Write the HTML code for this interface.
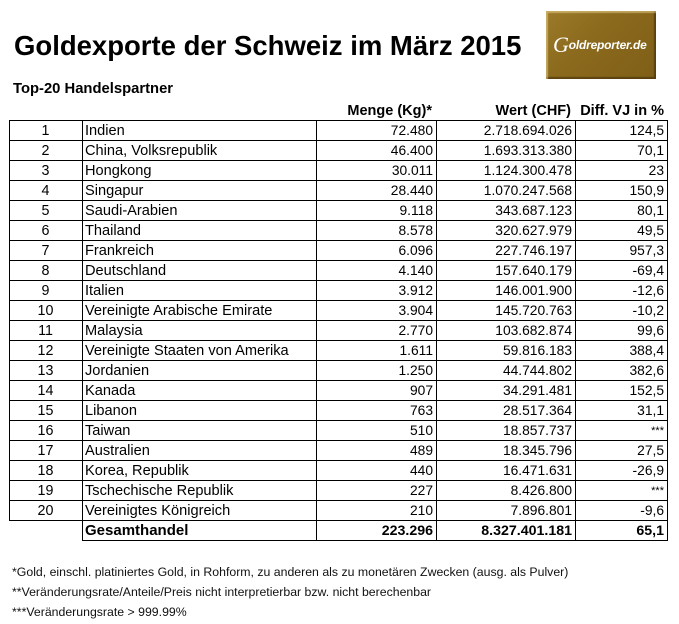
<!DOCTYPE html>
<html>
<head>
<meta charset="utf-8">
<style>
  html,body{margin:0;padding:0;background:#fff;}
  body{width:679px;height:624px;position:relative;overflow:hidden;font-family:"Liberation Sans",Arial,sans-serif;color:#000;}
  .a{position:absolute;white-space:nowrap;}
  .h{position:absolute;height:1px;background:#000;}
  .v{position:absolute;width:1px;background:#000;}
  .t{position:absolute;font-size:13.8px;line-height:22px;height:20px;white-space:nowrap;}
  .n{text-align:center;width:73px;left:9px;font-size:14.3px;}
  .c{left:85px;font-size:14.6px;}
  .m{right:246px;text-align:right;}
  .w{right:107px;text-align:right;}
  .d{right:15px;text-align:right;}
  .b{font-weight:bold;}
  .fn{position:absolute;left:12px;font-size:12.3px;line-height:14px;white-space:nowrap;color:#111;}
</style>
</head>
<body>
  <div class="a" style="left:14px;top:30px;font-size:27.5px;font-weight:bold;line-height:32px;">Goldexporte der Schweiz im März 2015</div>

  <div class="a" style="left:546px;top:11px;width:110px;height:68px;background:linear-gradient(135deg,#9c7a2a 0%,#8b6a1d 40%,#7f5f17 100%);box-shadow:inset 2px 2px 1px rgba(255,235,170,0.45), inset -2px -2px 1px rgba(40,25,0,0.45);">
    <div class="a" style="left:7px;top:24px;color:#fff;font-weight:bold;font-style:italic;font-size:12px;line-height:20px;letter-spacing:-0.2px;"><span style="font-family:'Liberation Serif',serif;font-size:22px;font-weight:normal;vertical-align:-3px;">G</span>oldreporter.de</div>
  </div>

  <div class="a" style="left:13px;top:81px;font-size:14.8px;font-weight:bold;line-height:17px;">Top-20 Handelspartner</div>

  <div class="t b" style="right:247px;top:100px;font-size:14.5px;">Menge (Kg)*</div>
  <div class="t b" style="right:108px;top:100px;font-size:14.5px;">Wert (CHF)</div>
  <div class="t b" style="right:15px;top:100px;font-size:14.5px;">Diff. VJ in %</div>

  <!-- horizontal lines -->
  <div class="h" style="left:9px;width:659px;top:120px;"></div>
  <div class="h" style="left:9px;width:659px;top:140px;"></div>
  <div class="h" style="left:9px;width:659px;top:160px;"></div>
  <div class="h" style="left:9px;width:659px;top:180px;"></div>
  <div class="h" style="left:9px;width:659px;top:200px;"></div>
  <div class="h" style="left:9px;width:659px;top:220px;"></div>
  <div class="h" style="left:9px;width:659px;top:240px;"></div>
  <div class="h" style="left:9px;width:659px;top:260px;"></div>
  <div class="h" style="left:9px;width:659px;top:280px;"></div>
  <div class="h" style="left:9px;width:659px;top:300px;"></div>
  <div class="h" style="left:9px;width:659px;top:320px;"></div>
  <div class="h" style="left:9px;width:659px;top:340px;"></div>
  <div class="h" style="left:9px;width:659px;top:360px;"></div>
  <div class="h" style="left:9px;width:659px;top:380px;"></div>
  <div class="h" style="left:9px;width:659px;top:400px;"></div>
  <div class="h" style="left:9px;width:659px;top:420px;"></div>
  <div class="h" style="left:9px;width:659px;top:440px;"></div>
  <div class="h" style="left:9px;width:659px;top:460px;"></div>
  <div class="h" style="left:9px;width:659px;top:480px;"></div>
  <div class="h" style="left:9px;width:659px;top:500px;"></div>
  <div class="h" style="left:9px;width:659px;top:520px;"></div>
  <div class="h" style="left:82px;width:586px;top:540px;"></div>

  <!-- vertical lines -->
  <div class="v" style="left:9px;top:120px;height:401px;"></div>
  <div class="v" style="left:82px;top:120px;height:421px;"></div>
  <div class="v" style="left:316px;top:120px;height:421px;"></div>
  <div class="v" style="left:436px;top:120px;height:421px;"></div>
  <div class="v" style="left:575px;top:120px;height:421px;"></div>
  <div class="v" style="left:667px;top:120px;height:421px;"></div>

  <!-- rows -->
  <div class="t n" style="top:120px;">1</div><div class="t c" style="top:120px;">Indien</div><div class="t m" style="top:120px;">72.480</div><div class="t w" style="top:120px;">2.718.694.026</div><div class="t d" style="top:120px;">124,5</div>
  <div class="t n" style="top:140px;">2</div><div class="t c" style="top:140px;">China, Volksrepublik</div><div class="t m" style="top:140px;">46.400</div><div class="t w" style="top:140px;">1.693.313.380</div><div class="t d" style="top:140px;">70,1</div>
  <div class="t n" style="top:160px;">3</div><div class="t c" style="top:160px;">Hongkong</div><div class="t m" style="top:160px;">30.011</div><div class="t w" style="top:160px;">1.124.300.478</div><div class="t d" style="top:160px;">23</div>
  <div class="t n" style="top:180px;">4</div><div class="t c" style="top:180px;">Singapur</div><div class="t m" style="top:180px;">28.440</div><div class="t w" style="top:180px;">1.070.247.568</div><div class="t d" style="top:180px;">150,9</div>
  <div class="t n" style="top:200px;">5</div><div class="t c" style="top:200px;">Saudi-Arabien</div><div class="t m" style="top:200px;">9.118</div><div class="t w" style="top:200px;">343.687.123</div><div class="t d" style="top:200px;">80,1</div>
  <div class="t n" style="top:220px;">6</div><div class="t c" style="top:220px;">Thailand</div><div class="t m" style="top:220px;">8.578</div><div class="t w" style="top:220px;">320.627.979</div><div class="t d" style="top:220px;">49,5</div>
  <div class="t n" style="top:240px;">7</div><div class="t c" style="top:240px;">Frankreich</div><div class="t m" style="top:240px;">6.096</div><div class="t w" style="top:240px;">227.746.197</div><div class="t d" style="top:240px;">957,3</div>
  <div class="t n" style="top:260px;">8</div><div class="t c" style="top:260px;">Deutschland</div><div class="t m" style="top:260px;">4.140</div><div class="t w" style="top:260px;">157.640.179</div><div class="t d" style="top:260px;">-69,4</div>
  <div class="t n" style="top:280px;">9</div><div class="t c" style="top:280px;">Italien</div><div class="t m" style="top:280px;">3.912</div><div class="t w" style="top:280px;">146.001.900</div><div class="t d" style="top:280px;">-12,6</div>
  <div class="t n" style="top:300px;">10</div><div class="t c" style="top:300px;">Vereinigte Arabische Emirate</div><div class="t m" style="top:300px;">3.904</div><div class="t w" style="top:300px;">145.720.763</div><div class="t d" style="top:300px;">-10,2</div>
  <div class="t n" style="top:320px;">11</div><div class="t c" style="top:320px;">Malaysia</div><div class="t m" style="top:320px;">2.770</div><div class="t w" style="top:320px;">103.682.874</div><div class="t d" style="top:320px;">99,6</div>
  <div class="t n" style="top:340px;">12</div><div class="t c" style="top:340px;">Vereinigte Staaten von Amerika</div><div class="t m" style="top:340px;">1.611</div><div class="t w" style="top:340px;">59.816.183</div><div class="t d" style="top:340px;">388,4</div>
  <div class="t n" style="top:360px;">13</div><div class="t c" style="top:360px;">Jordanien</div><div class="t m" style="top:360px;">1.250</div><div class="t w" style="top:360px;">44.744.802</div><div class="t d" style="top:360px;">382,6</div>
  <div class="t n" style="top:380px;">14</div><div class="t c" style="top:380px;">Kanada</div><div class="t m" style="top:380px;">907</div><div class="t w" style="top:380px;">34.291.481</div><div class="t d" style="top:380px;">152,5</div>
  <div class="t n" style="top:400px;">15</div><div class="t c" style="top:400px;">Libanon</div><div class="t m" style="top:400px;">763</div><div class="t w" style="top:400px;">28.517.364</div><div class="t d" style="top:400px;">31,1</div>
  <div class="t n" style="top:420px;">16</div><div class="t c" style="top:420px;">Taiwan</div><div class="t m" style="top:420px;">510</div><div class="t w" style="top:420px;">18.857.737</div><div class="t d" style="top:420px;font-size:11px;">***</div>
  <div class="t n" style="top:440px;">17</div><div class="t c" style="top:440px;">Australien</div><div class="t m" style="top:440px;">489</div><div class="t w" style="top:440px;">18.345.796</div><div class="t d" style="top:440px;">27,5</div>
  <div class="t n" style="top:460px;">18</div><div class="t c" style="top:460px;">Korea, Republik</div><div class="t m" style="top:460px;">440</div><div class="t w" style="top:460px;">16.471.631</div><div class="t d" style="top:460px;">-26,9</div>
  <div class="t n" style="top:480px;">19</div><div class="t c" style="top:480px;">Tschechische Republik</div><div class="t m" style="top:480px;">227</div><div class="t w" style="top:480px;">8.426.800</div><div class="t d" style="top:480px;font-size:11px;">***</div>
  <div class="t n" style="top:500px;">20</div><div class="t c" style="top:500px;">Vereinigtes Königreich</div><div class="t m" style="top:500px;">210</div><div class="t w" style="top:500px;">7.896.801</div><div class="t d" style="top:500px;">-9,6</div>
  <div class="t c b" style="top:520px;font-size:15px;">Gesamthandel</div><div class="t m b" style="top:520px;font-size:14.2px;">223.296</div><div class="t w b" style="top:520px;font-size:14.2px;">8.327.401.181</div><div class="t d b" style="top:520px;font-size:14.2px;">65,1</div>

  <div class="fn" style="top:565px;">*Gold, einschl. platiniertes Gold, in Rohform, zu anderen als zu monetären Zwecken (ausg. als Pulver)</div>
  <div class="fn" style="top:585px;">**Veränderungsrate/Anteile/Preis nicht interpretierbar bzw. nicht berechenbar</div>
  <div class="fn" style="top:605px;">***Veränderungsrate &gt; 999.99%</div>
</body>
</html>
